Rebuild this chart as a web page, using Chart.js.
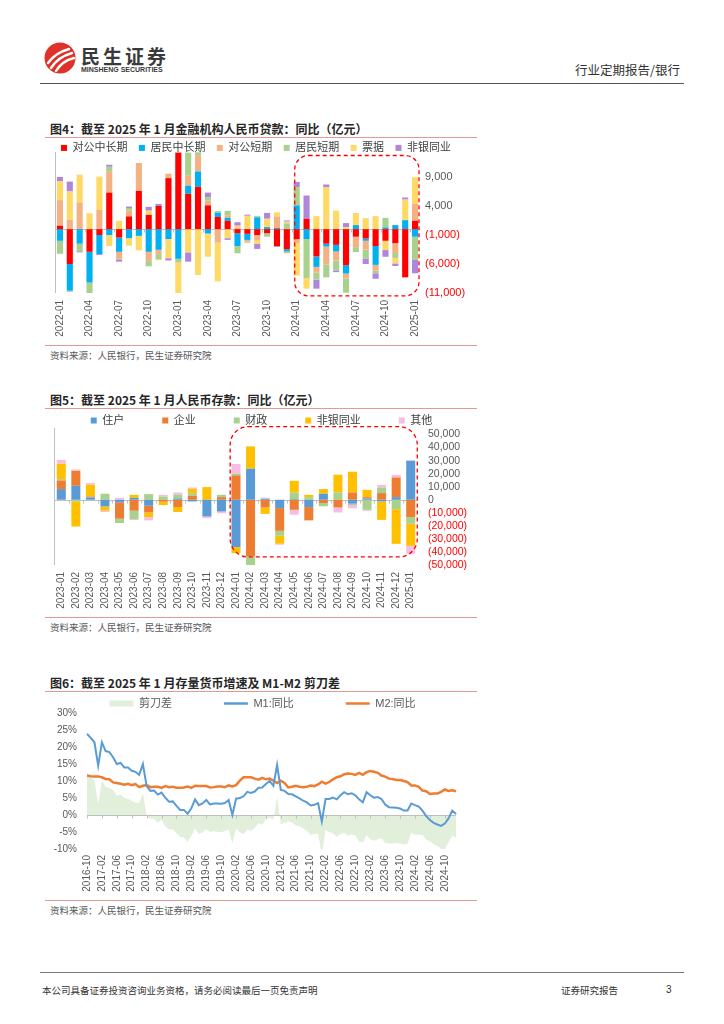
<!DOCTYPE html>
<html lang="zh-CN">
<head>
<meta charset="utf-8">
<title>银行 行业定期报告 图4-图6</title>
<script src="https://cdn.jsdelivr.net/npm/chart.js@4.4.1/dist/chart.umd.min.js"></script>
<style>
  html, body { margin: 0; padding: 0; background: #fff; }
  #page { position: relative; width: 724px; height: 1024px; overflow: hidden; font-family: 'Noto Sans CJK SC', sans-serif; color: #333; }
  .abs { position: absolute; white-space: nowrap; }
  .title { font-size: 12px; font-weight: bold; line-height: 16px; color: #262626; left: 50px; }
  .rule { position: absolute; height: 1px; background: #e39a92; left: 45px; width: 432px; }
  .src { font-size: 9.5px; line-height: 12px; color: #595959; left: 50px; }
  canvas { position: absolute; }
</style>
</head>
<body>
<div id="page">
  <svg class="abs" style="left:44px;top:42px" width="32" height="32" viewBox="0 0 32 32">
    <circle cx="16" cy="16" r="15.5" fill="#e0302a"/>
    <path d="M4 21 Q11 11 25 7" stroke="#fff" stroke-width="2.4" fill="none" stroke-linecap="round"/>
    <path d="M7 26 Q14 15 28 11" stroke="#fff" stroke-width="2.4" fill="none" stroke-linecap="round"/>
    <path d="M12 29 Q18 19 30 16" stroke="#fff" stroke-width="2.4" fill="none" stroke-linecap="round"/>
  </svg>
  <div class="abs" style="left:81px;top:46px;font-size:19px;line-height:19px;font-weight:bold;color:#3a3a3a;letter-spacing:3px">民生证券</div>
  <div class="abs" style="left:81px;top:66px;font-family:'Liberation Sans',sans-serif;font-size:7px;line-height:8px;font-weight:bold;color:#3a3a3a">MINSHENG SECURITIES</div>
  <div class="abs" style="right:44px;top:62px;font-size:12.5px;line-height:16px;color:#333">行业定期报告/银行</div>
  <div class="abs" style="left:40px;top:83px;width:644px;height:1px;background:#555"></div>

  <div class="abs title" style="top:121px">图4：截至 2025 年 1 月金融机构人民币贷款：同比（亿元）</div>
  <div class="rule" style="top:137px"></div>
  <div class="rule" style="top:345px"></div>
  <div class="abs src" style="top:349px">资料来源：人民银行，民生证券研究院</div>

  <div class="abs title" style="top:392px">图5：截至 2025 年 1 月人民币存款：同比（亿元）</div>
  <div class="rule" style="top:408px"></div>
  <div class="rule" style="top:617px"></div>
  <div class="abs src" style="top:621px">资料来源：人民银行，民生证券研究院</div>

  <div class="abs title" style="top:675px">图6：截至 2025 年 1 月存量货币增速及 M1-M2 剪刀差</div>
  <div class="rule" style="top:691px"></div>
  <div class="rule" style="top:900px"></div>
  <div class="abs src" style="top:904px">资料来源：人民银行，民生证券研究院</div>

  <div class="abs" style="left:40px;top:972px;width:644px;height:1px;background:#777"></div>
  <div class="abs" style="left:42px;top:984px;font-size:9.5px;line-height:12px;color:#333">本公司具备证券投资咨询业务资格，请务必阅读最后一页免责声明</div>
  <div class="abs" style="left:561px;top:984px;font-size:9.5px;line-height:12px;color:#333">证券研究报告</div>
  <div class="abs" style="left:666px;top:984px;font-size:10px;line-height:12px;color:#333;font-family:'Liberation Sans',sans-serif">3</div>

  <canvas id="loanChart" width="446" height="212" style="left:39px;top:131px"></canvas>
  <canvas id="depositChart" width="429" height="238" style="left:47px;top:377px"></canvas>
  <canvas id="moneyChart" width="481" height="253" style="left:27px;top:646px"></canvas>
</div>

<script>
function monthRange(y, m, n) {
    let out = [];
    for (let i = 0; i < n; i++) {
        out.push(y + '-' + String(m).padStart(2, '0'));
        m++;
        if (m > 12) { m = 1; y++; }
    }
    return out;
}

// 图4 贷款同比（亿元），2022-01 ~ 2025-01
const loanMonths = monthRange(2022, 1, 37);
const corpLong  = [600, -6000, 0, -3900, -1000, 6300, -1450, 2200, 6600, 2450, 4000, 8800, 13200, 6100, 7300, 4100, 2100, 1450, -700, -800, -1000, -700, -2900, -3450, -1700, 1800, -4700, -2500, -2700, -6200, -1300, -1600, -2900, -2000, -2400, -8300, 1450];
const hhLong    = [-2000, -4600, -2500, -5300, -3300, -1000, -2450, -1550, -1150, -3900, -3550, -1700, -5100, 1400, 2650, -750, 750, 500, -2200, -1050, 2050, 350, 200, -400, 4100, -1700, -1800, -500, -1150, -1450, 700, -400, -3250, 300, 700, 1550, -1300];
const corpShort = [4400, 1600, 4600, 0, 3300, 3700, -1200, 1000, 4800, -1600, -750, 750, 0, 1700, 2700, 800, -2300, 450, 300, -300, -850, 0, 2000, -300, -700, 0, -1000, -3050, -1550, -850, -1800, -1500, -1000, 0, -1700, 0, 2950];
const hhShort   = [-2250, -200, -1300, -1950, 0, 750, -200, 450, 0, -900, -850, 0, -650, 4000, 600, 650, 300, 750, -1250, -200, 200, -600, 0, 1000, 3150, -6700, -1200, -2250, -1700, -2450, -850, -1550, -450, 1650, -850, 0, -4000];
const bills     = [3300, 4900, 4800, 2750, 5750, -1900, 1450, -1300, -2500, 750, -200, -3300, -5400, -4000, -7900, -4000, -6700, -1550, 300, 2300, -700, 1450, 700, 300, -5600, -1850, 2250, 7200, 3200, 350, 2100, 1900, 2250, -1600, -950, 3550, 4550];
const loanNonbank = [700, 1700, -200, 0, -150, 350, -300, 250, 0, 650, 350, -400, 0, -1600, 0, 750, 0, -300, 600, 200, -850, 1000, -150, 200, 900, 4000, -1550, 500, -300, 700, 0, -950, -950, -1150, -450, 350, -2300];
const loanTicks = [-11000, -6000, -1000, 4000, 9000];

// 图5 存款同比（亿元），2023-01 ~ 2025-01
const depositMonths = monthRange(2023, 1, 25);
const household  = [8200, 10700, 1800, -5100, -2000, 1500, -4600, 0, 1000, -1300, -12800, -9000, -36300, 23800, 800, -6400, 500, -5600, 4600, 0, -3000, 1000, -1300, 2000, 30000];
const enterprise = [6600, 11500, 700, 0, -12500, -8400, -5100, -1500, -5600, 3100, 0, 2000, 18700, -43500, -5900, -17400, -7700, -10200, -2500, -5900, 5600, 1000, 5100, 15100, -13300];
const fiscal     = [1000, -1300, 0, 4600, -3300, -6400, 4300, 2500, 2800, 2000, 0, 1800, 1300, -6900, 0, -3800, 5000, 2000, -2500, 5600, -1000, -7700, 4300, -7200, -5100];
const depNonbank = [11800, -19200, 9000, -3300, 0, 2300, -3600, -2500, -3800, 3300, 9700, 0, -4600, 17100, -4900, -6100, 9000, 1800, 3600, 13600, 15900, 5600, -14100, -26600, -16900];
const otherDep   = [3000, 1000, 1300, -1000, 1500, -800, -2500, 1300, 1800, 1000, -1300, -1300, 7400, 0, 800, -800, -3800, 0, 0, -3800, -2500, -800, 2000, 2000, -6100];
const depositTicks = [-50000, -40000, -30000, -20000, -10000, 0, 10000, 20000, 30000, 40000, 50000];

// 图6 M1、M2 同比（%）及剪刀差，2016-10 ~ 2025-01
const moneyMonths = monthRange(2016, 10, 100);
const m1 = [23.9, 22.7, 21.4,
    14.5, 21.4, 18.8, 18.5, 17.0, 15.0, 15.3, 14.0, 14.0, 13.0, 12.7, 11.8,
    15.0, 8.5, 7.1, 7.2, 6.0, 6.6, 5.1, 3.9, 4.0, 2.7, 1.5, 1.5,
    0.4, 2.0, 4.6, 2.9, 3.4, 4.4, 3.1, 3.4, 3.4, 3.3, 3.5, 4.4,
    0.0, 4.8, 5.0, 5.5, 6.8, 6.5, 6.9, 8.0, 8.1, 9.1, 10.0, 8.6,
    14.7, 7.4, 7.1, 6.2, 6.1, 5.5, 4.9, 4.2, 3.7, 2.8, 3.0, 3.5,
    -1.9, 4.7, 4.7, 5.1, 4.6, 5.8, 6.7, 6.1, 6.4, 5.8, 4.6, 3.7,
    6.7, 5.8, 5.1, 5.3, 4.7, 3.1, 2.3, 2.2, 2.1, 1.9, 1.3, 1.3,
    3.4, 2.9, 2.5, 1.3, -0.3, -1.5, -2.3, -2.8, -3.2, -2.5, -1.0, 1.3,
    0.3];
const m2 = [11.6, 11.4, 11.3,
    11.3, 11.1, 10.6, 10.5, 9.6, 9.4, 9.2, 8.9, 9.2, 8.8, 9.1, 8.2,
    8.6, 8.8, 8.2, 8.3, 8.3, 8.0, 8.5, 8.2, 8.3, 8.0, 8.0, 8.1,
    8.4, 8.0, 8.6, 8.5, 8.5, 8.5, 8.1, 8.2, 8.4, 8.4, 8.2, 8.7,
    8.4, 8.8, 10.1, 11.1, 11.1, 11.1, 10.7, 10.4, 10.9, 10.5, 10.7, 10.1,
    9.4, 10.1, 9.4, 8.1, 8.3, 8.6, 8.3, 8.2, 8.3, 8.7, 8.5, 9.0,
    9.8, 9.2, 9.7, 10.5, 11.1, 11.4, 12.0, 12.2, 12.1, 11.8, 12.4, 11.8,
    12.6, 12.9, 12.7, 12.4, 11.6, 11.3, 10.7, 10.6, 10.3, 10.3, 10.0, 9.7,
    8.7, 8.7, 8.3, 7.2, 7.0, 6.2, 6.3, 6.3, 6.8, 7.5, 7.1, 7.3,
    7.0];
const spread = [12.3, 11.3, 10.1,
    3.2, 10.3, 8.2, 8.0, 7.4, 5.6, 6.1, 5.1, 4.8, 4.2, 3.6, 3.6,
    6.4, -0.3, -1.1, -1.1, -2.3, -1.4, -3.4, -4.3, -4.3, -5.3, -6.5, -6.6,
    -8.0, -6.0, -4.0, -5.6, -5.1, -4.1, -5.0, -4.8, -5.0, -5.1, -4.7, -4.3,
    -8.4, -4.0, -5.1, -5.6, -4.3, -4.6, -3.8, -2.4, -2.8, -1.4, -0.7, -1.5,
    5.3, -2.7, -2.3, -1.9, -2.2, -3.1, -3.4, -4.0, -4.6, -5.9, -5.5, -5.5,
    -11.7, -4.5, -5.0, -5.4, -6.5, -5.6, -5.3, -6.1, -5.7, -6.0, -7.8, -8.1,
    -5.9, -7.1, -7.6, -7.1, -6.9, -8.2, -8.4, -8.4, -8.2, -8.4, -8.7, -8.4,
    -5.3, -5.8, -5.8, -5.9, -7.3, -7.7, -8.6, -9.1, -10.0, -10.0, -8.1, -6.0,
    -6.7];

Chart.defaults.font.family = "'Liberation Sans', 'Noto Sans CJK SC', sans-serif";
Chart.defaults.color = '#595959';
Chart.defaults.animation = false;

function fmtWan(v) {
    let s = Math.abs(v).toLocaleString('en-US');
    return v < 0 ? '(' + s + ')' : s;
}

// legend box takes a fixed height so the plot starts right under it
const tightLegend = {
    id: 'tightLegend',
    beforeLayout(chart, args, opts) {
        const lg = chart.legend;
        if (lg && !lg._tight) {
            const fit = lg.fit.bind(lg);
            lg.fit = function () { fit(); this.height = opts.height; };
            lg._tight = true;
        }
    }
};

// zero line with small tick marks, optional left axis line
const zeroAxis = {
    id: 'zeroAxis',
    beforeDatasetsDraw(chart, args, opts) {
        const { ctx, chartArea } = chart;
        const x = chart.scales.x, y = chart.scales.y;
        const y0 = Math.round(y.getPixelForValue(0)) + 0.5;
        ctx.save();
        ctx.strokeStyle = opts.color;
        ctx.lineWidth = 1;
        ctx.beginPath();
        ctx.moveTo(chartArea.left, y0);
        ctx.lineTo(chartArea.right, y0);
        (opts.marks || []).forEach(v => {
            let px = Math.round(x.getPixelForValue(v)) + 0.5;
            ctx.moveTo(px, y0);
            ctx.lineTo(px, y0 + 3);
        });
        if (opts.leftLine) {
            let lx = Math.round(chartArea.left) + 0.5;
            ctx.moveTo(lx, chartArea.top);
            ctx.lineTo(lx, chartArea.bottom);
        }
        ctx.stroke();
        ctx.restore();
    }
};

// red dashed rounded frame around the latest 13 months
const dashBox = {
    id: 'dashBox',
    afterDatasetsDraw(chart, args, opts) {
        if (!opts.box) return;
        const { ctx } = chart;
        const x = chart.scales.x, y = chart.scales.y;
        const b = opts.box;
        let l = x.getPixelForValue(b.x0), r = x.getPixelForValue(b.x1);
        let t = y.getPixelForValue(b.y0), btm = y.getPixelForValue(b.y1);
        ctx.save();
        ctx.setLineDash([4, 3]);
        ctx.strokeStyle = '#ff0000';
        ctx.lineWidth = 1.3;
        ctx.beginPath();
        ctx.roundRect(l, t, r - l, btm - t, b.r);
        ctx.stroke();
        ctx.restore();
    }
};

function every(start, end, step) {
    let out = [];
    for (let v = start; v <= end; v += step) out.push(v);
    return out;
}

function barDataset(label, data, color) {
    return { label: label, data: data, backgroundColor: color, borderWidth: 0, barPercentage: 0.62, categoryPercentage: 1 };
}

function bottomAxis(step) {
    return {
        stacked: true,
        grid: { display: false, drawTicks: false },
        border: { display: false },
        ticks: {
            autoSkip: false, maxRotation: 90, minRotation: 90, padding: 7,
            font: { size: 10 }, color: '#595959',
            callback: function (v, i) { return i % step === 0 ? this.getLabelForValue(v) : ''; }
        },
        afterFit: s => { s.height = 50; }
    };
}

// an empty axis used only as a spacer box
function spacer(side, w) {
    return {
        position: side, display: true,
        grid: { display: false, drawTicks: false },
        border: { display: false },
        ticks: { display: false },
        afterFit: s => { s.width = w; }
    };
}

new Chart(document.getElementById('loanChart'), {
    type: 'bar',
    data: {
        labels: loanMonths,
        datasets: [
            barDataset('对公中长期', corpLong, '#ff0000'),
            barDataset('居民中长期', hhLong, '#00b0f0'),
            barDataset('对公短期', corpShort, '#f4b183'),
            barDataset('居民短期', hhShort, '#a9d18e'),
            barDataset('票据', bills, '#ffd966'),
            barDataset('非银同业', loanNonbank, '#ae86dc')
        ]
    },
    options: {
        responsive: false,
        layout: { padding: { left: 0, right: 12, top: 0, bottom: 0 } },
        scales: {
            x: bottomAxis(3),
            y: {
                stacked: true, position: 'right', min: -11000, max: 13300,
                grid: { display: false, drawTicks: false },
                border: { display: false },
                afterBuildTicks: s => { s.ticks = loanTicks.map(v => ({ value: v })); },
                ticks: {
                    autoSkip: false, padding: 5, font: { size: 11 },
                    color: c => c.tick.value < 0 ? '#ff0000' : '#595959',
                    callback: v => fmtWan(v)
                },
                afterFit: s => { s.width = 53; }
            },
            yPadL: spacer('left', 16)
        },
        plugins: {
            legend: { labels: { boxWidth: 6, boxHeight: 6, padding: 11.4, color: '#404040', font: { size: 11 } } },
            tooltip: { enabled: false },
            tightLegend: { height: 21 },
            zeroAxis: { color: '#bfbfbf', leftLine: true, marks: every(2.5, 35.5, 3) },
            dashBox: { box: { x0: 23.8, x1: 36.4, y0: 12700, y1: -11500, r: 14 } }
        }
    },
    plugins: [tightLegend, zeroAxis, dashBox]
});

new Chart(document.getElementById('depositChart'), {
    type: 'bar',
    data: {
        labels: depositMonths,
        datasets: [
            barDataset('住户', household, '#5b9bd5'),
            barDataset('企业', enterprise, '#ed7d31'),
            barDataset('财政', fiscal, '#a9d18e'),
            barDataset('非银同业', depNonbank, '#ffc000'),
            barDataset('其他', otherDep, '#f6bde5')
        ]
    },
    options: {
        responsive: false,
        layout: { padding: { left: 0, right: 0, top: 0, bottom: 0 } },
        scales: {
            x: bottomAxis(1),
            y: {
                stacked: true, position: 'right', min: -50000, max: 55000,
                grid: { display: false, drawTicks: false },
                border: { display: false },
                afterBuildTicks: s => { s.ticks = depositTicks.map(v => ({ value: v })); },
                ticks: {
                    autoSkip: false, padding: 10, font: { size: 10.5 },
                    color: c => c.tick.value < 0 ? '#ff0000' : '#595959',
                    callback: v => fmtWan(v)
                },
                afterFit: s => { s.width = 58; }
            },
            yPadL: spacer('left', 7)
        },
        plugins: {
            legend: { labels: { boxWidth: 6, boxHeight: 6, padding: 38, color: '#404040', font: { size: 11 } } },
            tooltip: { enabled: false },
            tightLegend: { height: 51 },
            zeroAxis: { color: '#bfbfbf', leftLine: true, marks: every(0.5, 23.5, 1) },
            dashBox: { box: { x0: 11.6, x1: 24.45, y0: 56000, y1: -43800, r: 18 } }
        }
    },
    plugins: [tightLegend, zeroAxis, dashBox]
});

new Chart(document.getElementById('moneyChart'), {
    type: 'line',
    data: {
        labels: moneyMonths,
        datasets: [
            {
                label: '剪刀差', data: spread, fill: 'origin',
                backgroundColor: '#e2efda', borderColor: '#e2efda', borderWidth: 0,
                pointRadius: 0, pointStyle: 'rect', pointBackgroundColor: '#e2efda', pointBorderWidth: 0
            },
            {
                label: 'M1:同比', data: m1, fill: false,
                borderColor: '#5b9bd5', borderWidth: 2, pointRadius: 0,
                pointStyle: 'line', pointBorderColor: '#5b9bd5', pointBorderWidth: 2.5
            },
            {
                label: 'M2:同比', data: m2, fill: false,
                borderColor: '#ed7d31', borderWidth: 2.5, pointRadius: 0,
                pointStyle: 'line', pointBorderColor: '#ed7d31', pointBorderWidth: 2.5
            }
        ]
    },
    options: {
        responsive: false,
        layout: { padding: { left: 0, right: 10, top: 0, bottom: 0 } },
        scales: {
            x: {
                offset: false,
                grid: { display: false, drawTicks: false },
                border: { display: false },
                ticks: {
                    autoSkip: false, maxRotation: 90, minRotation: 90, padding: 6,
                    font: { size: 10 }, color: '#595959',
                    callback: function (v, i) { return i % 4 === 0 ? this.getLabelForValue(v) : ''; }
                },
                afterFit: s => { s.height = 50; }
            },
            y: {
                min: -10, max: 30,
                grid: { display: false, drawTicks: false },
                border: { display: false },
                ticks: { stepSize: 5, padding: 10, font: { size: 10 }, callback: v => v + '%' },
                afterFit: s => { s.width = 60; }
            },
            yPad: spacer('right', 42)
        },
        plugins: {
            legend: {
                labels: {
                    usePointStyle: true, pointStyleWidth: 24, boxHeight: 6,
                    padding: 52, color: '#595959', font: { size: 11 }
                }
            },
            tooltip: { enabled: false },
            filler: { drawTime: 'beforeDatasetsDraw' },
            tightLegend: { height: 67 },
            zeroAxis: { color: '#bfbfbf', leftLine: false, marks: every(0, 96, 4) }
        }
    },
    plugins: [tightLegend, zeroAxis]
});
</script>
</body>
</html>
